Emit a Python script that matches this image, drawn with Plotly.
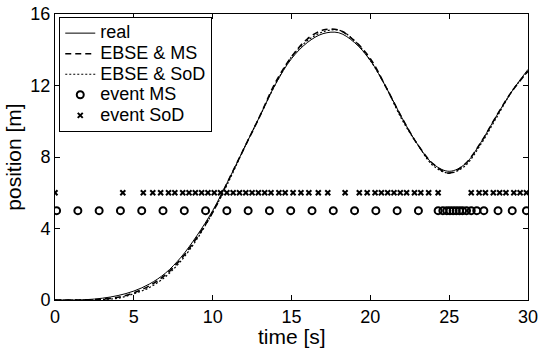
import plotly.graph_objects as go

# time grid [s]
t = [0, 1, 2, 3, 4, 5, 6, 7, 8, 9, 10, 11, 12, 13, 14, 15, 16, 17, 18, 19, 20,
     21, 22, 23, 24, 25, 26, 27, 28, 29, 30]
# real position [m]
real = [0.0, 0.0, 0.02, 0.1, 0.25, 0.5, 0.9, 1.5, 2.4, 3.6, 5.0, 6.7, 8.5, 10.3,
        12.1, 13.5, 14.4, 14.9, 14.95, 14.4, 13.4, 11.9, 10.2, 8.7, 7.6, 7.2,
        7.6, 8.8, 10.3, 11.7, 12.9]
# EBSE & MS estimate
ebse_ms = [0.0, 0.0, 0.01, 0.05, 0.15, 0.4, 0.8, 1.4, 2.3, 3.5, 4.9, 6.7, 8.5,
           10.3, 12.2, 13.6, 14.6, 15.1, 15.1, 14.5, 13.5, 11.9, 10.2, 8.7, 7.6,
           7.1, 7.6, 8.8, 10.3, 11.7, 12.8]
# EBSE & SoD estimate
ebse_sod = [0.0, 0.0, 0.0, 0.03, 0.1, 0.35, 0.7, 1.3, 2.2, 3.4, 4.9, 6.6, 8.5,
            10.3, 12.1, 13.6, 14.5, 15.0, 15.1, 14.5, 13.4, 11.9, 10.1, 8.7,
            7.5, 7.1, 7.5, 8.7, 10.2, 11.7, 12.8]
# event times
ms_events = [0.1, 1.45, 2.8, 4.15, 5.5, 6.85, 8.2, 9.55, 10.9, 12.25, 13.6,
             14.95, 16.3, 17.65, 19.0, 20.35, 21.7, 23.05, 24.3, 24.6, 24.85,
             25.05, 25.25, 25.45, 25.65, 25.85, 26.1, 26.4, 26.75, 27.2, 28.1,
             29.0, 29.9]
sod_events = [0.0, 4.3, 5.6, 6.2, 6.7, 7.2, 7.6, 8.1, 8.5, 8.9, 9.3, 9.7, 10.1,
              10.5, 10.9, 11.3, 11.7, 12.1, 12.5, 12.9, 13.3, 13.7, 14.2, 14.6,
              15.1, 15.6, 16.1, 16.7, 17.3, 18.4, 19.3, 19.8, 20.3, 20.7, 21.1,
              21.5, 21.9, 22.3, 22.8, 23.2, 23.7, 24.3, 26.4, 26.9, 27.3, 27.8,
              28.2, 28.6, 29.1, 29.5, 29.9]
ms_level = 5
sod_level = 6
legend_names = ["real", "EBSE &amp; MS", "EBSE &amp; SoD", "event MS", "event SoD"]


def lname(s):
    return "<span style='font-size:18px'>" + s + "</span>"


fig = go.Figure()
fig.add_trace(go.Scatter(x=t, y=real, mode="lines", name=lname(legend_names[0]),
                         line=dict(color="black", width=1, shape="spline")))
fig.add_trace(go.Scatter(x=t, y=ebse_ms, mode="lines", name=lname(legend_names[1]),
                         line=dict(color="black", width=1.6, dash="6px,4px", shape="spline")))
fig.add_trace(go.Scatter(x=t, y=ebse_sod, mode="lines", name=lname(legend_names[2]),
                         line=dict(color="black", width=1.2, dash="2px,2px", shape="spline")))
fig.add_trace(go.Scatter(x=ms_events, y=[ms_level] * len(ms_events), mode="markers",
                         name=lname(legend_names[3]),
                         marker=dict(symbol="circle-open", size=7, color="black",
                                     line=dict(width=2, color="black"))))
fig.add_trace(go.Scatter(x=sod_events, y=[sod_level] * len(sod_events), mode="markers",
                         name=lname(legend_names[4]),
                         marker=dict(symbol="x-thin", size=5, color="black",
                                     line=dict(width=2, color="black"))))

font = "Liberation Sans, Arial, sans-serif"
fig.update_layout(
    width=539, height=349,
    margin=dict(l=55, r=11, t=14, b=49),
    paper_bgcolor="white", plot_bgcolor="white",
    font=dict(family=font, size=18, color="black"),
    showlegend=True,
    legend=dict(x=0.009, y=0.99, xanchor="left", yanchor="top",
                bgcolor="white", bordercolor="black", borderwidth=1,
                font=dict(size=13.5), tracegroupgap=0, itemwidth=30),
    annotations=[dict(text="time [s]", xref="paper", yref="paper", x=0.5, y=0,
                      xanchor="center", yanchor="middle", yshift=-36,
                      showarrow=False, font=dict(size=21))],
)
fig.update_xaxes(range=[0, 30], tickvals=[0, 5, 10, 15, 20, 25, 30],
                 ticks="inside", ticklen=5, tickcolor="black",
                 showline=True, linecolor="black", linewidth=1, mirror="ticks",
                 showgrid=False, zeroline=False, automargin=False,
                 tickfont=dict(size=18))
fig.update_yaxes(range=[0, 16], tickvals=[0, 4, 8, 12, 16],
                 ticks="inside", ticklen=5, tickcolor="black",
                 showline=True, linecolor="black", linewidth=1, mirror="ticks",
                 showgrid=False, zeroline=False, automargin=False,
                 tickfont=dict(size=18),
                 title=dict(text="position [m]", font=dict(size=21), standoff=3))

fig.write_html("out.html", config={"displayModeBar": False},
               post_script="document.body.style.margin='0px';")
